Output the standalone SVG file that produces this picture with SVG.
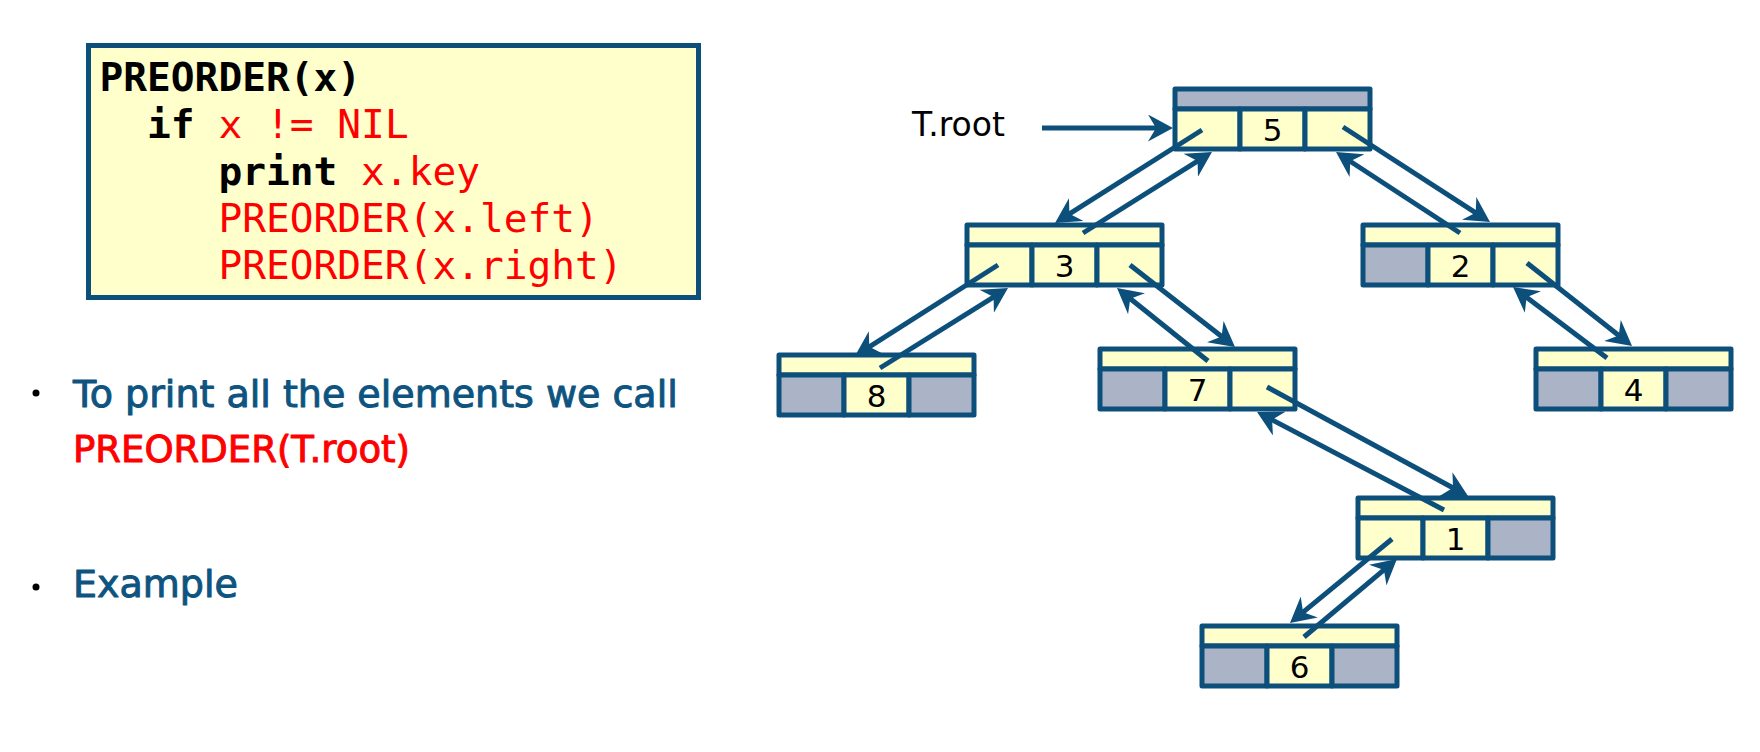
<svg xmlns="http://www.w3.org/2000/svg" width="1760" height="752" viewBox="0 0 1760 752">
<style>
.bg{fill:#FFFFFF}
.code{fill:#FFFFCC;stroke:#0D4F7B;stroke-width:5}
.mono{font-family:"DejaVu Sans Mono","Liberation Mono",monospace;font-size:39.5px}
.kw{font-weight:bold;fill:#000000}
.red{fill:#FF0000}
.body{font-family:"DejaVu Sans","Liberation Sans",sans-serif;font-size:38px;stroke-width:1;stroke-linejoin:round}
.blue{fill:#0E5480;stroke:#0E5480}
.redb{fill:#FF0000;stroke:#FF0000}
.y{fill:#FFFFCC;stroke:#0D4F7B;stroke-width:5;stroke-linejoin:round}
.g{fill:#AAB4C6;stroke:#0D4F7B;stroke-width:5;stroke-linejoin:round}
.key{font-family:"DejaVu Sans","Liberation Sans",sans-serif;font-size:31px;fill:#000000;text-anchor:middle}
.edge{stroke:#0D4F7B;stroke-width:5;fill:none;marker-end:url(#ah)}
.lbl{font-family:"DejaVu Sans","Liberation Sans",sans-serif;font-size:33px;fill:#000000}
</style>
<defs>
<marker id="ah" markerUnits="userSpaceOnUse" viewBox="0 0 25 27" markerWidth="25" markerHeight="27" refX="15" refY="13.5" orient="auto">
<path d="M0,0 L25,13.5 L0,27 L8,13.5 Z" fill="#0D4F7B"/>
</marker>
</defs>
<rect class="bg" x="0" y="0" width="1760" height="752"/>

<g id="code">
<rect class="code" x="88.5" y="45.5" width="610" height="252"/>
<text class="mono" xml:space="preserve"><tspan class="kw" x="99.5" y="91">PREORDER(x)</tspan></text>
<text class="mono" xml:space="preserve" x="147.1" y="138"><tspan class="kw">if</tspan><tspan class="red"> x != NIL</tspan></text>
<text class="mono" xml:space="preserve" x="218.4" y="185"><tspan class="kw">print</tspan><tspan class="red"> x.key</tspan></text>
<text class="mono red" x="218.4" y="232">PREORDER(x.left)</text>
<text class="mono red" x="218.4" y="279">PREORDER(x.right)</text>
</g>

<g id="bullets">
<circle cx="36" cy="393" r="3.5" fill="#000000"/>
<text class="body blue" x="73" y="407">To print all the elements we call</text>
<text class="body redb" x="73" y="462" textLength="337" lengthAdjust="spacingAndGlyphs">PREORDER(T.root)</text>
<circle cx="36" cy="587" r="3.5" fill="#000000"/>
<text class="body blue" x="73" y="597">Example</text>
</g>

<g id="label-troot">
<text class="lbl" x="912" y="136">T.root</text>
</g>

<g id="node5">
<rect class="g" x="1175" y="89" width="195" height="20"/>
<rect class="y" x="1175" y="109" width="65" height="40"/>
<rect class="y" x="1240" y="109" width="65" height="40"/>
<rect class="y" x="1305" y="109" width="65" height="40"/>
<text class="key" x="1272.5" y="141">5</text>
</g>
<g id="node3">
<rect class="y" x="967" y="225" width="195" height="20"/>
<rect class="y" x="967" y="245" width="65" height="40"/>
<rect class="y" x="1032" y="245" width="65" height="40"/>
<rect class="y" x="1097" y="245" width="65" height="40"/>
<text class="key" x="1064.5" y="277">3</text>
</g>
<g id="node2">
<rect class="y" x="1363" y="225" width="195" height="20"/>
<rect class="g" x="1363" y="245" width="65" height="40"/>
<rect class="y" x="1428" y="245" width="65" height="40"/>
<rect class="y" x="1493" y="245" width="65" height="40"/>
<text class="key" x="1460.5" y="277">2</text>
</g>
<g id="node8">
<rect class="y" x="779" y="355" width="195" height="20"/>
<rect class="g" x="779" y="375" width="65" height="40"/>
<rect class="y" x="844" y="375" width="65" height="40"/>
<rect class="g" x="909" y="375" width="65" height="40"/>
<text class="key" x="876.5" y="407">8</text>
</g>
<g id="node7">
<rect class="y" x="1100" y="349" width="195" height="20"/>
<rect class="g" x="1100" y="369" width="65" height="40"/>
<rect class="y" x="1165" y="369" width="65" height="40"/>
<rect class="y" x="1230" y="369" width="65" height="40"/>
<text class="key" x="1197.5" y="401">7</text>
</g>
<g id="node4">
<rect class="y" x="1536" y="349" width="195" height="20"/>
<rect class="g" x="1536" y="369" width="65" height="40"/>
<rect class="y" x="1601" y="369" width="65" height="40"/>
<rect class="g" x="1666" y="369" width="65" height="40"/>
<text class="key" x="1633.5" y="401">4</text>
</g>
<g id="node1">
<rect class="y" x="1358" y="498" width="195" height="20"/>
<rect class="y" x="1358" y="518" width="65" height="40"/>
<rect class="y" x="1423" y="518" width="65" height="40"/>
<rect class="g" x="1488" y="518" width="65" height="40"/>
<text class="key" x="1455.5" y="550">1</text>
</g>
<g id="node6">
<rect class="y" x="1202" y="626" width="195" height="20"/>
<rect class="g" x="1202" y="646" width="65" height="40"/>
<rect class="y" x="1267" y="646" width="65" height="40"/>
<rect class="g" x="1332" y="646" width="65" height="40"/>
<text class="key" x="1299.5" y="678">6</text>
</g>

<g id="connectors">
<line class="edge" x1="1042" y1="128" x2="1163" y2="128"/>
<line class="edge" x1="1202" y1="130" x2="1063.5" y2="217.6"/>
<line class="edge" x1="1083" y1="233" x2="1203.5" y2="157.3"/>
<line class="edge" x1="1343" y1="127" x2="1481.6" y2="216.6"/>
<line class="edge" x1="1460" y1="233" x2="1344.4" y2="157.5"/>
<line class="edge" x1="998" y1="265" x2="863.4" y2="350.6"/>
<line class="edge" x1="880" y1="368" x2="999.5" y2="293.3"/>
<line class="edge" x1="1130" y1="265" x2="1227.1" y2="340.8"/>
<line class="edge" x1="1208" y1="361" x2="1124.8" y2="294.3"/>
<line class="edge" x1="1527" y1="263" x2="1624.2" y2="339.8"/>
<line class="edge" x1="1607" y1="358" x2="1521" y2="293"/>
<line class="edge" x1="1267" y1="387" x2="1459.2" y2="491.2"/>
<line class="edge" x1="1444" y1="510" x2="1265.9" y2="416.6"/>
<line class="edge" x1="1392" y1="539" x2="1297.7" y2="616.6"/>
<line class="edge" x1="1304" y1="637" x2="1389.3" y2="565.4"/>
</g>
</svg>
